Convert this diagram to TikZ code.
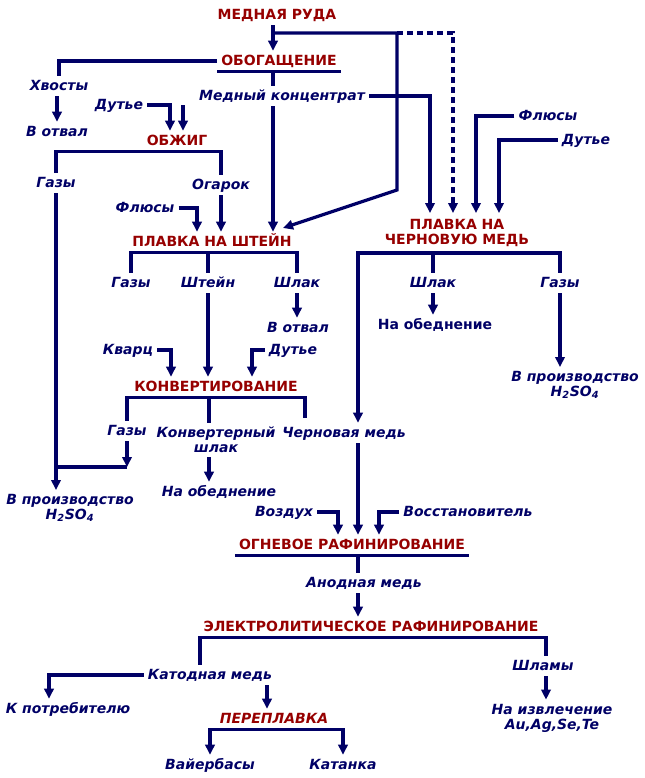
\documentclass[tikz,border=0pt]{standalone}
\usepackage{fontspec}
\setmainfont{DejaVu Sans}
\usetikzlibrary{calc,arrows.meta}
\definecolor{flowblue}{RGB}{0,0,102}
\definecolor{procred}{RGB}{150,0,0}
\tikzset{
  basetext/.style={inner sep=3pt, font=\fontsize{10.5}{11.25}\selectfont\bfseries},
  proc/.style={basetext, text=procred, text height=8pt, text depth=1pt},
  procit/.style={proc, font=\fontsize{10.5}{11.25}\selectfont\bfseries\itshape},
  proctwo/.style={basetext, text=procred, align=center, inner ysep=4.5pt},
  prod/.style={basetext, text=flowblue, text height=8pt, text depth=1pt, font=\fontsize{10.5}{11.25}\selectfont\bfseries\itshape},
  produp/.style={prod, font=\fontsize{10.5}{11.25}\selectfont\bfseries},
  prodtwo/.style={basetext, text=flowblue, align=center, font=\fontsize{10.5}{11.25}\selectfont\bfseries\itshape},
  flow/.style={draw=flowblue, line width=2.4pt},
  arr/.style={flow, -{Triangle[length=7.5pt,width=7pt]}},
  dflow/.style={arr, dash pattern=on 4.5pt off 3pt}
}

\begin{document}
\begin{tikzpicture}[x=0.75pt,y=-0.75pt]
		\useasboundingbox (0,0) rectangle (644,778);
		%%%%% PROCESSES %%%%%
		
		\node[proc] (ruda) at (277,15) {МЕДНАЯ РУДА};
		\node[proc] (obog) at (279,61) {ОБОГАЩЕНИЕ};
		\node[proc] (obzhig) at (177,141) {ОБЖИГ};
		\node[proc] (shtein) at (212,242) {ПЛАВКА НА ШТЕЙН};
		\node[proctwo] (chern) at (457,233) {ПЛАВКА НА\\ЧЕРНОВУЮ МЕДЬ};
		\node[proc] (konv) at (216,387) {КОНВЕРТИРОВАНИЕ};
		\node[proc] (ogn) at (352,545) {ОГНЕВОЕ РАФИНИРОВАНИЕ};
		\node[proc] (elektr) at (371,627) {ЭЛЕКТРОЛИТИЧЕСКОЕ РАФИНИРОВАНИЕ};
		\node[procit] (pereplav) at (274,719) {ПЕРЕПЛАВКА};
		
		%%%%% PRODUCTS %%%%%
		
		\node[prod] (hvost) at (59,86) {Хвосты};
		\node[prod] (otval1) at (57,132) {В отвал};
		\node[prod] (dutye1) at (119,105) {Дутье};
		\node[prod] (konc) at (282,96) {Медный концентрат};
		\node[prod] (gazy1) at (56,183) {Газы};
		\node[prod] (ogarok) at (221,185) {Огарок};
		\node[prod] (flus1) at (145,208) {Флюсы};
		\node[prod] (flus2) at (548,116) {Флюсы};
		\node[prod] (dutye2) at (586,140) {Дутье};
		\node[prod] (gazy2) at (131,283) {Газы};
		\node[prod] (shteinp) at (208,283) {Штейн};
		\node[prod] (shlak1) at (297,283) {Шлак};
		\node[prod] (otval2) at (298,328) {В отвал};
		\node[prod] (kvarc) at (128,350) {Кварц};
		\node[prod] (dutye3) at (293,350) {Дутье};
		\node[prod] (shlak2) at (433,283) {Шлак};
		\node[produp] (obedn1) at (435,325) {На обеднение};
		\node[prod] (gazy3) at (560,283) {Газы};
		\node[prodtwo] (proizv1) at (575,385) {В производство\\H\textsubscript{2}SO\textsubscript{4}};
		\node[prod] (gazy4) at (127,431) {Газы};
		\node[prodtwo] (konvshl) at (216,440) {Конвертерный\\шлак};
		\node[prod] (chernmed) at (344,433) {Черновая медь};
		\node[prodtwo] (proizv2) at (70,508) {В производство\\H\textsubscript{2}SO\textsubscript{4}};
		\node[prod] (obedn2) at (219,492) {На обеднение};
		\node[prod] (vozduh) at (284,512) {Воздух};
		\node[prod] (vosst) at (468,512) {Восстановитель};
		\node[prod] (anod) at (364,583) {Анодная медь};
		\node[prod] (katod) at (210,675) {Катодная медь};
		\node[prod] (shlamy) at (543,666) {Шламы};
		\node[prod] (potreb) at (68,709) {К потребителю};
		\node[prodtwo] (izvl) at (552,718) {На извлечение\\Au,Ag,Se,Te};
		\node[prod] (vaier) at (210,765) {Вайербасы};
		\node[prod] (katanka) at (343,765) {Катанка};
		
		%%%%% HELPER POINTS %%%%%
		
		\coordinate (c1) at (273,33);
		\coordinate (c2) at (397,33);
		\coordinate (c3) at (453,33);
		\coordinate (c4) at (397,190);
		\coordinate (c5) at (283,228);
		\coordinate (c7) at (183,105);
		\coordinate (c8) at (305,418);
		\coordinate (c9) at (127,467);
		\coordinate (kx) at ($(konvshl.north)+(-7,0)$);
		\coordinate (cm) at ($(chernmed.north)+(14,0)$);
		\coordinate (kp) at ($(katod.south)+(57,0)$);
		
		%%%%% FLOWS %%%%%
		
		\draw[arr] (ruda.south -| c1) -- (obog.north -| c1);
		\draw[arr] (c1) -- (c2) -- (c4) -- (c5);
		\draw[dflow] (c2) -- (c3) -- (c3 |- chern.north);
		
		\draw[flow] (obog.west) -| (hvost.north);
		\draw[flow] (obog.south west) -- (obog.south east);
		\draw[flow] (obog.south -| c1) -- (konc.north -| c1);
		\draw[arr] (konc.south -| c1) -- (shtein.north -| c1);
		\draw[arr] (konc.east) -| ($(chern.north)+(-27,0)$);
		\draw[arr] (flus2.west) -| ($(chern.north)+(19,0)$);
		\draw[arr] (dutye2.west) -| ($(chern.north)+(42,0)$);
		
		\draw[arr] (hvost.south -| otval1) -- (otval1.north);
		\draw[arr] (dutye1.east) -| ($(obzhig.north)+(-7,0)$);
		\draw[arr] (c7) -- (c7 |- obzhig.north);
		
		\draw[flow] (gazy1.north) |- (obzhig.south) -| (ogarok.north);
		\draw[arr] (gazy1.south) -- (gazy1.south |- proizv2.north);
		\draw[arr] (ogarok.south) -- (ogarok.south |- shtein.north);
		\draw[arr] (flus1.east) -| ($(shtein.north)+(-15,0)$);
		
		\draw[flow] (gazy2.north) |- (shtein.south) -| (shlak1.north);
		\draw[flow] (shtein.south -| shteinp) -- (shteinp.north);
		\draw[arr] (shteinp.south) -- (shteinp.south |- konv.north);
		\draw[arr] (shlak1.south) -- (shlak1.south |- otval2.north);
		\draw[arr] (kvarc.east) -| ($(konv.north)+(-45,0)$);
		\draw[arr] (dutye3.west) -| ($(konv.north)+(36,0)$);
		
		\draw[flow] (gazy4.north) |- (konv.south) -| (c8);
		\draw[flow] (konv.south -| kx) -- (kx);
		\draw[arr] (konvshl.south -| kx) -- (obedn2.north -| kx);
		\draw[arr] (gazy4.south) -- (c9);
		\draw[flow] (c9) -- (c9 -| gazy1);
		
		\draw[arr] (chern.south) -| (cm);
		\draw[flow] (chern.south) -| (gazy3.north);
		\draw[flow] (chern.south -| shlak2) -- (shlak2.north);
		\draw[arr] (shlak2.south) -- (shlak2.south |- obedn1.north);
		\draw[arr] (gazy3.south) -- (gazy3.south |- proizv1.north);
		
		\draw[arr] (chernmed.south -| cm) -- (ogn.north -| cm);
		\draw[arr] (vozduh.east) -| ($(ogn.north)+(-14,0)$);
		\draw[arr] (vosst.west) -| ($(ogn.north)+(27,0)$);
		\draw[flow] (ogn.south west) -- (ogn.south east);
		\draw[flow] (ogn.south -| cm) -- (anod.north -| cm);
		\draw[arr] (anod.south -| cm) -- (elektr.north -| cm);
		
		\draw[flow] ($(katod.north)+(-10,0)$) |- (elektr.south) -| ($(shlamy.north)+(3,0)$);
		\draw[arr] (katod.west) -| ($(potreb.north)+(-19,0)$);
		\draw[arr] (kp) -- (kp |- pereplav.north);
		\draw[arr] ($(shlamy.south)+(3,0)$) -- ($(shlamy.south |- izvl.north)+(3,0)$);
		\draw[arr] (pereplav.south) -| (vaier.north);
		\draw[arr] (pereplav.south) -| (katanka.north);
		
		%%%%% END %%%%%
	\end{tikzpicture}
\end{document}
